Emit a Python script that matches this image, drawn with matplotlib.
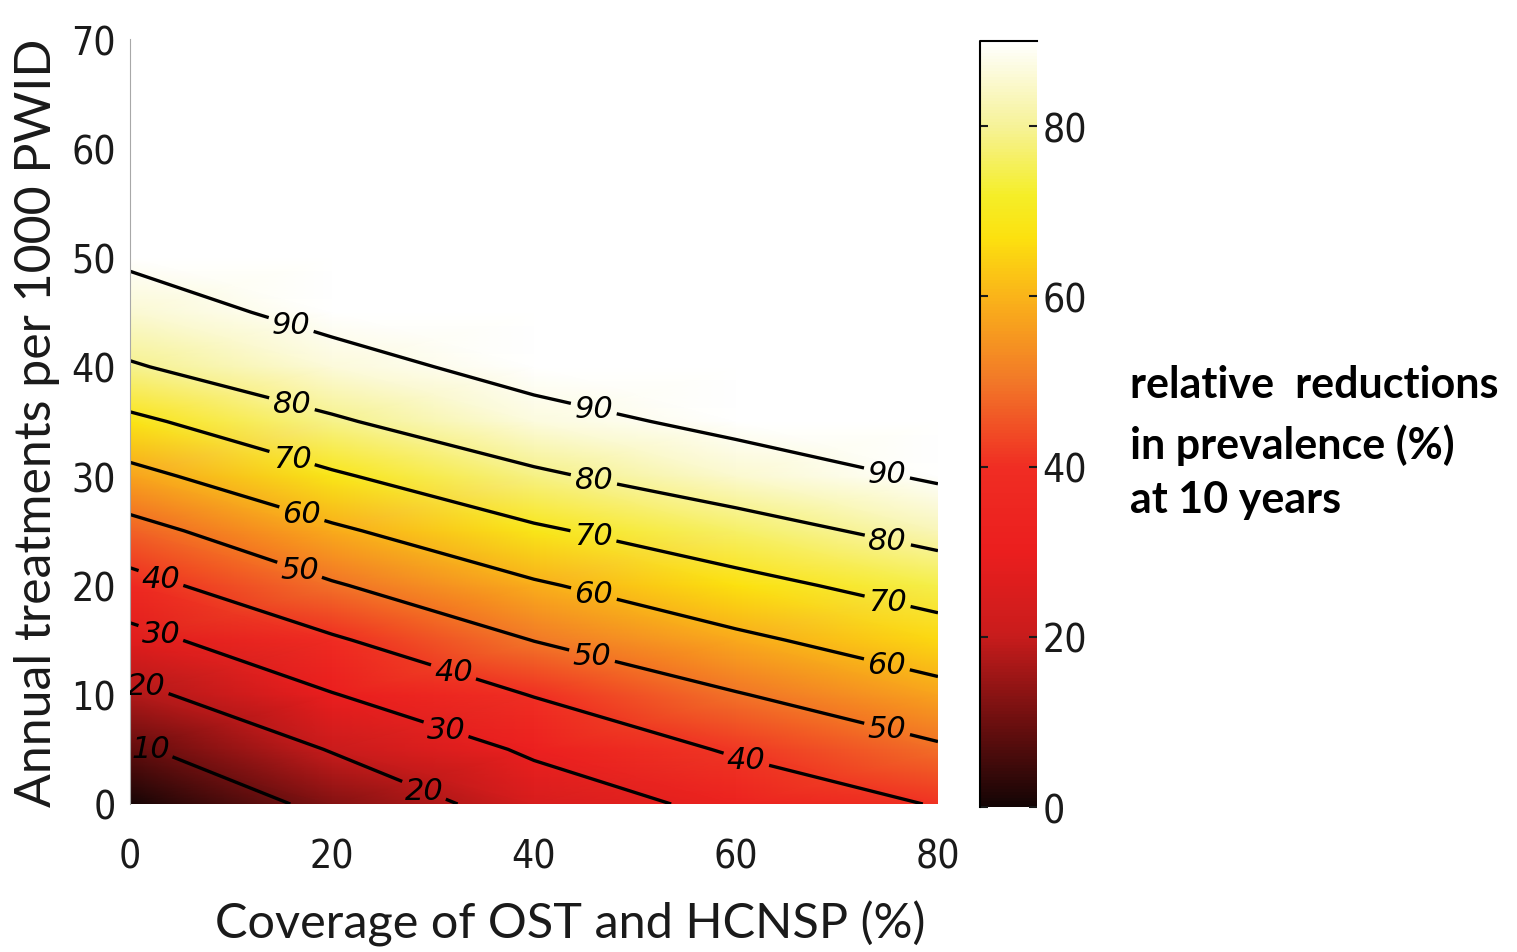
import numpy as np
import matplotlib
matplotlib.use('Agg')
import matplotlib.pyplot as plt
from matplotlib.colors import LinearSegmentedColormap

plt.rcParams['font.family'] = ['DejaVu Sans']
plt.rcParams['font.stretch'] = 'condensed'

# coverage of OST and HCNSP (%) -> columns
coverage = [0, 20, 40, 60, 80]
# annual treatments per 1000 PWID -> rows
treatments = [0, 5, 10, 15, 20, 25, 30, 35, 40, 45, 50, 60, 70]
# relative reduction in prevalence (%)
reduction = [
    [0.0, 12.6, 24.5, 32.6, 40.6],
    [8.6, 20.5, 31.4, 41.2, 48.8],
    [17.5, 29.6, 40.4, 49.5, 57.2],
    [26.9, 38.9, 50.2, 58.2, 65.6],
    [36.7, 49.2, 58.9, 67.0, 74.4],
    [46.9, 58.5, 68.6, 76.3, 83.2],
    [57.3, 68.8, 78.6, 85.1, 91.1],
    [68.0, 79.0, 86.7, 92.4, 93.5],
    [79.3, 86.4, 93.5, 95.0, 95.5],
    [85.5, 93.0, 96.0, 96.5, 96.5],
    [91.5, 95.0, 97.0, 97.5, 97.5],
    [95.0, 97.0, 98.0, 98.5, 98.5],
    [97.0, 98.0, 99.0, 99.0, 99.0],
]
levels = [10, 20, 30, 40, 50, 60, 70, 80, 90]
cbar_ticks = [0, 20, 40, 60, 80]
x_ticks = [0, 20, 40, 60, 80]
y_ticks = [0, 10, 20, 30, 40, 50, 60, 70]

# hot-like map, tuned to the colours seen in the figure
cmap_stops = [0.0, 0.111, 0.222, 0.333, 0.444, 0.556, 0.667, 0.744, 0.8, 0.889, 1.0]
cmap_colors = ['#140505', '#6e0f0f', '#c81c1c', '#eb1e1e', '#f02d23', '#f27828',
               '#fab419', '#fce10f', '#f5ee28', '#f6f296', '#ffffff']

# where the contour labels sit
label_spots = [
    (16, 44), (46, 36.5), (75, 30.5),
    (16, 36.5), (46, 30), (75, 24),
    (16, 31.5), (46, 25), (75, 18.5),
    (17, 26.5), (46, 19.5), (75, 13),
    (17, 22), (46, 14.5), (75, 7),
    (3, 20.5), (32, 12), (61, 4),
    (3, 15.5), (31, 6),
    (1.5, 10.5), (29, 1),
    (2, 5),
]

cmap = LinearSegmentedColormap.from_list('hotish', list(zip(cmap_stops, cmap_colors)))

fig = plt.figure(figsize=(15.17, 9.53), dpi=100)
ax = fig.add_axes([0.0857, 0.1553, 0.5326, 0.8027])
cax = fig.add_axes([0.646, 0.1521, 0.0376, 0.8038])

X, Y = np.meshgrid(coverage, treatments)
Z = np.array(reduction)

mesh = ax.pcolormesh(X, Y, Z, cmap=cmap, vmin=0, vmax=90, shading='gouraud')
cs = ax.contour(X, Y, Z, levels=levels, colors='k', linewidths=2.4)
lbls = ax.clabel(cs, fmt='%d', fontsize=22, inline=True, inline_spacing=6,
                 manual=label_spots)
for t in lbls:
    t.set_rotation(0)
    t.set_fontstyle('italic')
    t.set_family('DejaVu Sans')
    t.set_fontstretch('normal')

ax.set_xlim(0, 80)
ax.set_ylim(0, 70)
ax.set_xticks(x_ticks)
ax.set_yticks(y_ticks)
for s in ['top', 'right', 'bottom']:
    ax.spines[s].set_visible(False)
ax.spines['left'].set_color('#a8a8a8')
ax.tick_params(length=0, labelsize=28, colors='#1a1a1a')
ax.tick_params(axis='x', pad=24)
ax.tick_params(axis='y', pad=10)

ax.set_xlabel('Coverage of OST and HCNSP (%)', family='Lato', fontsize=35,
              stretch='normal', color='#1a1a1a')
ax.xaxis.set_label_coords(0.545, -0.125)
ax.set_ylabel('Annual treatments per 1000 PWID', family='Lato', fontsize=36,
              stretch='normal', color='#1a1a1a', labelpad=8)

cbar = fig.colorbar(mesh, cax=cax, ticks=cbar_ticks)
cbar.outline.set_visible(False)
cax.plot([0, 0, 1], [0, 1, 1], transform=cax.transAxes, color='k', lw=1.5,
         clip_on=False)
cax.tick_params(axis='y', direction='in', left=True, right=True, length=6,
                width=1.5, labelsize=28, pad=4, colors='#1a1a1a')

for txt, yy in [('relative  reductions', 0.596), ('in prevalence (%)', 0.533),
                ('at 10 years', 0.475)]:
    fig.text(0.745, yy, txt, family='Lato', weight='bold', stretch='normal',
             fontsize=31, va='center')

fig.savefig('out.png', dpi=100)
